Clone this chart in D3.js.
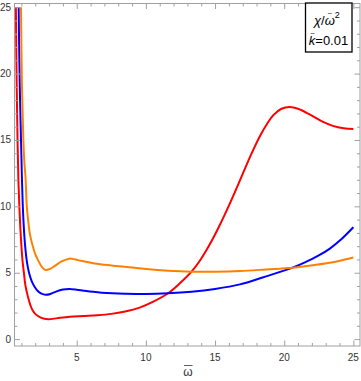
<!DOCTYPE html>
<html>
<head>
<meta charset="utf-8">
<script src="https://cdn.jsdelivr.net/npm/d3@7"></script>
<style>
  body { margin: 0; background: #fff; }
  svg { display: block; }
  text { font-family: "Liberation Sans", Arial, sans-serif; }
</style>
</head>
<body>
<div class="chart"></div>
<script>
// values
var redPts = [[0.6,25],[0.66,19],[0.72,15],[0.78,12],[0.85,10],[0.92,8.4],[1.0,7],[1.08,5.9],[1.18,5],[1.28,4.1],[1.4,3.5],[1.52,3.0],[1.65,2.55],[1.82,2.15],[2.0,1.9],[2.4,1.62],[2.95,1.5],[3.6,1.58],[4.5,1.68],[5.5,1.74],[6.5,1.8],[7.5,1.9],[8.5,2.08],[9.5,2.35],[10.5,2.8],[11.6,3.45],[12.45,4.2],[13.3,5.08],[13.9,5.9],[14.6,7.1],[15.3,8.5],[16.0,10.05],[16.8,11.95],[17.5,13.65],[18.3,15.4],[19.2,16.85],[19.8,17.35],[20.4,17.48],[21.0,17.35],[21.84,16.92],[22.7,16.42],[23.52,16.06],[24.3,15.88],[25,15.83]];
var bluePts = [[0.8,25],[0.88,19],[0.97,15],[1.04,12],[1.1,10],[1.18,8.3],[1.27,7],[1.4,5.8],[1.55,5],[1.75,4.35],[1.95,3.95],[2.2,3.6],[2.45,3.42],[2.75,3.34],[3.1,3.4],[3.5,3.58],[4.0,3.73],[4.46,3.77],[5.0,3.72],[5.5,3.65],[6.2,3.56],[6.8,3.5],[7.6,3.45],[8.5,3.42],[10,3.4],[11.6,3.45],[13.3,3.57],[15,3.78],[16.8,4.12],[18.5,4.66],[20.6,5.38],[21.5,5.78],[22.5,6.3],[23.3,6.82],[24,7.4],[25,8.43]];
var orangePts = [[0.97,25],[1.04,19],[1.14,15],[1.22,13.2],[1.29,12.3],[1.39,10],[1.48,9],[1.6,8],[1.72,7.4],[1.85,6.9],[2.0,6.4],[2.2,5.95],[2.5,5.4],[2.75,5.2],[3.05,5.28],[3.4,5.5],[3.9,5.85],[4.46,6.06],[4.9,6.0],[5.3,5.9],[6.3,5.7],[7.5,5.55],[8.84,5.41],[10,5.28],[11.6,5.15],[13.3,5.08],[15,5.08],[16.8,5.13],[18.7,5.25],[20.6,5.38],[22.3,5.6],[23.8,5.85],[25,6.14]];
var seriesColors = ["#ff0000", "#0000ff", "#ff8000"];
var xTickVals = [5, 10, 15, 20, 25];
var yTickVals = [0, 5, 10, 15, 20, 25];
var kLabel = "=0.01";

var W = 361, H = 381;
var pLeft = 14.5, pRight = 360, pTop = 3.5, pBottom = 346;

var x = d3.scaleLinear().domain([0.5, 25.48]).range([pLeft, pRight]);
var y = d3.scaleLinear().domain([-0.52, 25.28]).range([pBottom, pTop]);

var svg = d3.select('.chart').append('svg')
  .attr('width', W).attr('height', H);

svg.append('defs').append('clipPath').attr('id', 'clip')
  .append('rect')
  .attr('x', pLeft).attr('y', pTop)
  .attr('width', pRight - pLeft).attr('height', pBottom - pTop);

var line = d3.line()
  .x(function(d) { return x(d[0]); })
  .y(function(d) { return y(d[1]); })
  .curve(d3.curveCatmullRom.alpha(0.5));

var plot = svg.append('g').attr('clip-path', 'url(#clip)');
[redPts, bluePts, orangePts].forEach(function(pts, i) {
  plot.append('path')
    .datum(pts)
    .attr('d', line)
    .attr('fill', 'none')
    .attr('stroke', seriesColors[i])
    .attr('stroke-width', 2)
    .attr('stroke-linejoin', 'round');
});

// frame with ticks on all sides
var frameColor = '#a0a0a0';
var minorX = d3.range(1, 26), minorY = d3.range(0, 26);

function tickSide(g, scale, vals, majors, orient) {
  var axis;
  if (orient === 'bottom') axis = d3.axisBottom(scale);
  else if (orient === 'top') axis = d3.axisTop(scale);
  else if (orient === 'left') axis = d3.axisLeft(scale);
  else axis = d3.axisRight(scale);
  axis.tickValues(vals).tickSizeOuter(0).tickSizeInner(-3).tickFormat('');
  g.call(axis);
  g.select('.domain').remove();
  var horiz = (orient === 'bottom' || orient === 'top');
  g.selectAll('.tick line')
    .attr('stroke', frameColor)
    .attr(horiz ? 'y2' : 'x2', function(d) {
      var len = majors.indexOf(d) >= 0 ? 5.5 : 3;
      return (orient === 'bottom' || orient === 'right') ? -len : len;
    });
}

tickSide(svg.append('g').attr('transform', 'translate(0,' + pBottom + ')'), x, minorX, xTickVals, 'bottom');
tickSide(svg.append('g').attr('transform', 'translate(0,' + pTop + ')'), x, minorX, xTickVals, 'top');
tickSide(svg.append('g').attr('transform', 'translate(' + pLeft + ',0)'), y, minorY, yTickVals, 'left');
tickSide(svg.append('g').attr('transform', 'translate(' + pRight + ',0)'), y, minorY, yTickVals, 'right');

svg.append('rect')
  .attr('x', pLeft).attr('y', pTop)
  .attr('width', pRight - pLeft).attr('height', pBottom - pTop)
  .attr('fill', 'none').attr('stroke', frameColor).attr('stroke-width', 1);

// tick labels
svg.append('g').selectAll('text')
  .data(xTickVals).enter().append('text')
  .attr('x', function(d) { return x(d); })
  .attr('y', 361)
  .attr('text-anchor', 'middle')
  .attr('font-size', 10)
  .attr('fill', '#333')
  .text(function(d) { return d; });

svg.append('g').selectAll('text')
  .data(yTickVals).enter().append('text')
  .attr('x', 11)
  .attr('y', function(d) { return y(d) + 3.5; })
  .attr('text-anchor', 'end')
  .attr('font-size', 10)
  .attr('fill', '#333')
  .text(function(d) { return d; });

// axis title: omega with a bar
svg.append('text')
  .attr('x', 188).attr('y', 376)
  .attr('text-anchor', 'middle')
  .attr('font-size', 12)
  .attr('fill', '#333')
  .text('ω');
svg.append('line')
  .attr('x1', 184).attr('x2', 192.5)
  .attr('y1', 365.5).attr('y2', 365.5)
  .attr('stroke', '#333').attr('stroke-width', 0.8);

// label box
var box = svg.append('g');
box.append('rect')
  .attr('x', 305.5).attr('y', 3)
  .attr('width', 46.5).attr('height', 49)
  .attr('fill', '#fff').attr('stroke', '#000').attr('stroke-width', 1.3);

var t1 = box.append('text')
  .attr('x', 314).attr('y', 25)
  .attr('font-size', 13)
  .attr('fill', '#000');
t1.append('tspan').attr('font-style', 'italic').text('χ');
t1.append('tspan').text('/');
t1.append('tspan').attr('font-style', 'italic').text('ω');
t1.append('tspan').attr('font-size', 9).attr('dy', -7).text('2');
// tilde over omega
var omStart = t1.node().getStartPositionOfChar(2);
var omEnd = t1.node().getEndPositionOfChar(2);
box.append('text')
  .attr('x', (omStart.x + omEnd.x) / 2).attr('y', 15.5)
  .attr('text-anchor', 'middle')
  .attr('font-size', 8)
  .text('~');

var t2 = box.append('text')
  .attr('x', 328.5).attr('y', 45)
  .attr('text-anchor', 'middle')
  .attr('font-size', 13)
  .attr('fill', '#000');
t2.append('tspan').attr('font-style', 'italic').text('k');
t2.append('tspan').text(kLabel);
var kStart = t2.node().getStartPositionOfChar(0);
var kEnd = t2.node().getEndPositionOfChar(0);
box.append('text')
  .attr('x', (kStart.x + kEnd.x) / 2 + 0.5).attr('y', 35.5)
  .attr('text-anchor', 'middle')
  .attr('font-size', 8)
  .text('~');
</script>
</body>
</html>
